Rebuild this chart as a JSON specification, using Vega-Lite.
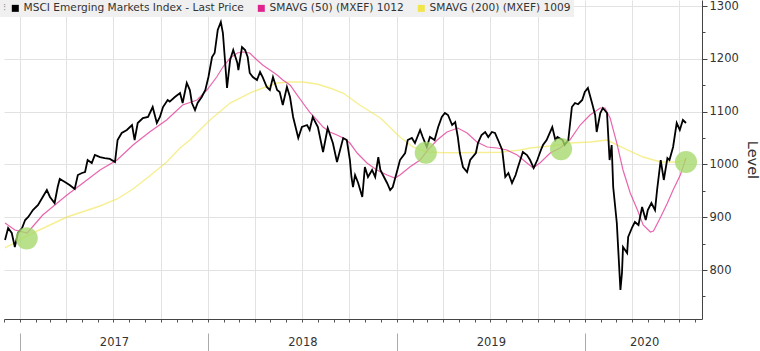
{
  "$schema": "https://vega.github.io/schema/vega-lite/v6.json",
  "width": 698,
  "height": 319,
  "autosize": {"type": "none"},
  "padding": {"left": 4, "top": 0, "right": 58, "bottom": 32},
  "background": "#ffffff",
  "config": {"font": "DejaVu Sans", "view": {"stroke": null}},
  "datasets": {
    "price": [
      {"date": "2016-12-03", "value": 856.8}, {"date": "2016-12-09", "value": 879.6}, {"date": "2016-12-16", "value": 870.1}, {"date": "2016-12-22", "value": 843.6}, {"date": "2016-12-28", "value": 870.1},
      {"date": "2017-01-05", "value": 879.6}, {"date": "2017-01-11", "value": 894.7}, {"date": "2017-01-17", "value": 900.4}, {"date": "2017-01-26", "value": 913.6}, {"date": "2017-02-05", "value": 923.1},
      {"date": "2017-02-14", "value": 938.3}, {"date": "2017-02-22", "value": 951.5}, {"date": "2017-02-28", "value": 938.3}, {"date": "2017-03-09", "value": 926.9}, {"date": "2017-03-15", "value": 957.2},
      {"date": "2017-03-19", "value": 972.4}, {"date": "2017-03-29", "value": 966.7}, {"date": "2017-04-07", "value": 961.0}, {"date": "2017-04-17", "value": 953.4}, {"date": "2017-04-23", "value": 979.9},
      {"date": "2017-05-01", "value": 983.7}, {"date": "2017-05-07", "value": 985.6}, {"date": "2017-05-12", "value": 1008.3}, {"date": "2017-05-20", "value": 1002.7}, {"date": "2017-05-26", "value": 1017.8},
      {"date": "2017-06-05", "value": 1014.0}, {"date": "2017-06-14", "value": 1012.1}, {"date": "2017-06-24", "value": 1010.5}, {"date": "2017-07-04", "value": 1004.6}, {"date": "2017-07-09", "value": 1046.2},
      {"date": "2017-07-17", "value": 1059.5}, {"date": "2017-07-27", "value": 1065.2}, {"date": "2017-08-06", "value": 1074.6}, {"date": "2017-08-11", "value": 1046.2}, {"date": "2017-08-17", "value": 1078.4},
      {"date": "2017-08-27", "value": 1087.9}, {"date": "2017-09-06", "value": 1089.8}, {"date": "2017-09-15", "value": 1108.7}, {"date": "2017-09-23", "value": 1078.4}, {"date": "2017-09-29", "value": 1089.8},
      {"date": "2017-10-05", "value": 1108.7}, {"date": "2017-10-14", "value": 1122.0}, {"date": "2017-10-18", "value": 1119.0}, {"date": "2017-10-28", "value": 1127.7}, {"date": "2017-11-07", "value": 1135.2},
      {"date": "2017-11-12", "value": 1116.3}, {"date": "2017-11-20", "value": 1154.2}, {"date": "2017-11-26", "value": 1140.9}, {"date": "2017-11-30", "value": 1116.3}, {"date": "2017-12-06", "value": 1103.0},
      {"date": "2017-12-11", "value": 1116.3}, {"date": "2017-12-19", "value": 1127.7}, {"date": "2017-12-26", "value": 1140.9}, {"date": "2018-01-01", "value": 1165.5}, {"date": "2018-01-08", "value": 1203.4},
      {"date": "2018-01-13", "value": 1211.0}, {"date": "2018-01-19", "value": 1254.5}, {"date": "2018-01-25", "value": 1269.7}, {"date": "2018-01-29", "value": 1248.9}, {"date": "2018-02-02", "value": 1197.7},
      {"date": "2018-02-06", "value": 1144.7}, {"date": "2018-02-12", "value": 1197.7}, {"date": "2018-02-18", "value": 1216.7}, {"date": "2018-02-26", "value": 1192.0}, {"date": "2018-02-28", "value": 1178.8},
      {"date": "2018-03-07", "value": 1222.4}, {"date": "2018-03-13", "value": 1216.7}, {"date": "2018-03-18", "value": 1203.4}, {"date": "2018-03-22", "value": 1173.1}, {"date": "2018-03-28", "value": 1165.5},
      {"date": "2018-04-05", "value": 1159.9}, {"date": "2018-04-11", "value": 1175.0}, {"date": "2018-04-16", "value": 1165.5}, {"date": "2018-04-24", "value": 1146.6}, {"date": "2018-04-30", "value": 1140.9},
      {"date": "2018-05-06", "value": 1165.5}, {"date": "2018-05-14", "value": 1140.9}, {"date": "2018-05-19", "value": 1137.1}, {"date": "2018-05-25", "value": 1112.5}, {"date": "2018-06-02", "value": 1146.6},
      {"date": "2018-06-08", "value": 1127.7}, {"date": "2018-06-14", "value": 1089.8}, {"date": "2018-06-24", "value": 1050.0}, {"date": "2018-07-01", "value": 1070.8}, {"date": "2018-07-11", "value": 1074.6},
      {"date": "2018-07-16", "value": 1065.2}, {"date": "2018-07-22", "value": 1089.8}, {"date": "2018-08-01", "value": 1070.8}, {"date": "2018-08-11", "value": 1023.5}, {"date": "2018-08-20", "value": 1068.9},
      {"date": "2018-08-30", "value": 1040.5}, {"date": "2018-09-07", "value": 1004.6}, {"date": "2018-09-13", "value": 1027.3}, {"date": "2018-09-19", "value": 1050.0}, {"date": "2018-09-26", "value": 1046.2},
      {"date": "2018-10-02", "value": 1008.3}, {"date": "2018-10-05", "value": 976.2}, {"date": "2018-10-08", "value": 957.2}, {"date": "2018-10-12", "value": 979.9}, {"date": "2018-10-18", "value": 964.8},
      {"date": "2018-10-26", "value": 938.3}, {"date": "2018-10-31", "value": 995.1}, {"date": "2018-11-06", "value": 976.2}, {"date": "2018-11-14", "value": 989.4}, {"date": "2018-11-20", "value": 976.2},
      {"date": "2018-11-26", "value": 1014.0}, {"date": "2018-11-30", "value": 989.4}, {"date": "2018-12-05", "value": 979.9}, {"date": "2018-12-13", "value": 964.8}, {"date": "2018-12-19", "value": 951.5},
      {"date": "2018-12-24", "value": 957.2}, {"date": "2019-01-02", "value": 989.4}, {"date": "2019-01-07", "value": 1008.3}, {"date": "2019-01-17", "value": 1021.6}, {"date": "2019-01-22", "value": 1046.2},
      {"date": "2019-01-30", "value": 1050.0}, {"date": "2019-02-05", "value": 1040.5}, {"date": "2019-02-15", "value": 1065.2}, {"date": "2019-02-20", "value": 1051.9}, {"date": "2019-02-28", "value": 1033.0},
      {"date": "2019-03-06", "value": 1051.9}, {"date": "2019-03-15", "value": 1046.2}, {"date": "2019-03-22", "value": 1070.8}, {"date": "2019-03-29", "value": 1089.8}, {"date": "2019-04-04", "value": 1097.4},
      {"date": "2019-04-10", "value": 1093.6}, {"date": "2019-04-18", "value": 1074.6}, {"date": "2019-04-24", "value": 1080.3}, {"date": "2019-04-29", "value": 1051.9}, {"date": "2019-05-03", "value": 1021.6},
      {"date": "2019-05-09", "value": 995.1}, {"date": "2019-05-17", "value": 985.6}, {"date": "2019-05-23", "value": 1008.3}, {"date": "2019-06-03", "value": 1021.6}, {"date": "2019-06-07", "value": 1040.5},
      {"date": "2019-06-14", "value": 1055.7}, {"date": "2019-06-21", "value": 1061.4}, {"date": "2019-06-27", "value": 1051.9}, {"date": "2019-07-04", "value": 1061.4}, {"date": "2019-07-10", "value": 1059.5},
      {"date": "2019-07-16", "value": 1046.2}, {"date": "2019-07-24", "value": 1027.3}, {"date": "2019-07-30", "value": 976.2}, {"date": "2019-08-05", "value": 983.7}, {"date": "2019-08-12", "value": 964.8},
      {"date": "2019-08-19", "value": 979.9}, {"date": "2019-08-23", "value": 993.2}, {"date": "2019-08-28", "value": 1008.3}, {"date": "2019-09-02", "value": 1023.5}, {"date": "2019-09-10", "value": 1017.8},
      {"date": "2019-09-16", "value": 1008.3}, {"date": "2019-09-23", "value": 993.2}, {"date": "2019-09-30", "value": 1008.3}, {"date": "2019-10-07", "value": 1027.3}, {"date": "2019-10-11", "value": 1036.7},
      {"date": "2019-10-18", "value": 1046.2}, {"date": "2019-10-29", "value": 1070.8}, {"date": "2019-11-04", "value": 1046.2}, {"date": "2019-11-08", "value": 1051.9}, {"date": "2019-11-18", "value": 1046.2},
      {"date": "2019-11-22", "value": 1036.7}, {"date": "2019-11-29", "value": 1046.2}, {"date": "2019-12-06", "value": 1108.7}, {"date": "2019-12-12", "value": 1116.3}, {"date": "2019-12-18", "value": 1114.0},
      {"date": "2019-12-26", "value": 1122.0}, {"date": "2019-12-31", "value": 1137.1}, {"date": "2020-01-06", "value": 1144.7}, {"date": "2020-01-14", "value": 1116.3}, {"date": "2020-01-20", "value": 1093.6},
      {"date": "2020-01-23", "value": 1061.4}, {"date": "2020-01-30", "value": 1097.4}, {"date": "2020-02-04", "value": 1106.8}, {"date": "2020-02-12", "value": 1097.4}, {"date": "2020-02-17", "value": 1008.3},
      {"date": "2020-02-21", "value": 1036.7}, {"date": "2020-02-24", "value": 957.2}, {"date": "2020-03-02", "value": 889.0}, {"date": "2020-03-09", "value": 762.1}, {"date": "2020-03-12", "value": 794.3},
      {"date": "2020-03-14", "value": 843.6}, {"date": "2020-03-22", "value": 832.2}, {"date": "2020-03-24", "value": 862.5}, {"date": "2020-04-01", "value": 881.4}, {"date": "2020-04-06", "value": 890.9},
      {"date": "2020-04-13", "value": 885.2}, {"date": "2020-04-20", "value": 919.3}, {"date": "2020-04-27", "value": 894.7}, {"date": "2020-05-01", "value": 913.6}, {"date": "2020-05-08", "value": 926.9},
      {"date": "2020-05-15", "value": 913.6}, {"date": "2020-05-19", "value": 951.5}, {"date": "2020-05-26", "value": 1008.3}, {"date": "2020-06-01", "value": 970.5}, {"date": "2020-06-08", "value": 1012.1},
      {"date": "2020-06-12", "value": 1008.3}, {"date": "2020-06-19", "value": 1033.0}, {"date": "2020-06-26", "value": 1078.4}, {"date": "2020-07-02", "value": 1065.2}, {"date": "2020-07-08", "value": 1084.1},
      {"date": "2020-07-14", "value": 1078.4}
    ],
    "sma50": [
      {"date": "2016-12-03", "value": 889.0}, {"date": "2016-12-22", "value": 875.8}, {"date": "2017-01-15", "value": 870.1}, {"date": "2017-02-14", "value": 904.2}, {"date": "2017-04-02", "value": 942.1},
      {"date": "2017-05-03", "value": 964.8}, {"date": "2017-06-05", "value": 989.4}, {"date": "2017-07-08", "value": 1008.3}, {"date": "2017-08-08", "value": 1036.7}, {"date": "2017-09-09", "value": 1061.4},
      {"date": "2017-10-12", "value": 1084.1}, {"date": "2017-11-12", "value": 1112.5}, {"date": "2017-12-10", "value": 1122.0}, {"date": "2017-12-29", "value": 1140.9}, {"date": "2018-01-17", "value": 1165.5},
      {"date": "2018-01-29", "value": 1184.5}, {"date": "2018-02-12", "value": 1201.5}, {"date": "2018-02-26", "value": 1211.0}, {"date": "2018-03-09", "value": 1212.9}, {"date": "2018-03-22", "value": 1211.0},
      {"date": "2018-04-05", "value": 1197.7}, {"date": "2018-04-16", "value": 1188.3}, {"date": "2018-04-30", "value": 1178.8}, {"date": "2018-05-14", "value": 1169.3}, {"date": "2018-05-25", "value": 1159.9},
      {"date": "2018-06-08", "value": 1150.4}, {"date": "2018-06-22", "value": 1131.4}, {"date": "2018-07-03", "value": 1116.3}, {"date": "2018-07-16", "value": 1099.2}, {"date": "2018-07-30", "value": 1084.1},
      {"date": "2018-08-11", "value": 1070.8}, {"date": "2018-08-24", "value": 1061.4}, {"date": "2018-09-07", "value": 1055.7}, {"date": "2018-09-19", "value": 1050.0}, {"date": "2018-10-02", "value": 1040.5},
      {"date": "2018-10-16", "value": 1021.6}, {"date": "2018-11-04", "value": 1002.7}, {"date": "2018-11-23", "value": 989.4}, {"date": "2018-12-13", "value": 979.9}, {"date": "2018-12-28", "value": 974.2},
      {"date": "2019-01-07", "value": 979.9}, {"date": "2019-01-26", "value": 995.1}, {"date": "2019-02-15", "value": 1008.3}, {"date": "2019-03-02", "value": 1027.3}, {"date": "2019-03-20", "value": 1046.2},
      {"date": "2019-04-08", "value": 1061.4}, {"date": "2019-04-29", "value": 1068.9}, {"date": "2019-05-17", "value": 1059.5}, {"date": "2019-06-05", "value": 1042.4}, {"date": "2019-06-25", "value": 1033.0},
      {"date": "2019-07-14", "value": 1031.1}, {"date": "2019-08-02", "value": 1027.3}, {"date": "2019-08-22", "value": 1017.8}, {"date": "2019-09-10", "value": 1002.7}, {"date": "2019-09-22", "value": 993.2},
      {"date": "2019-10-05", "value": 1002.7}, {"date": "2019-10-25", "value": 1021.6}, {"date": "2019-11-13", "value": 1031.1}, {"date": "2019-12-02", "value": 1046.2}, {"date": "2019-12-22", "value": 1074.6},
      {"date": "2020-01-10", "value": 1093.6}, {"date": "2020-01-30", "value": 1106.8}, {"date": "2020-02-08", "value": 1106.8}, {"date": "2020-02-18", "value": 1087.9}, {"date": "2020-03-02", "value": 1040.5},
      {"date": "2020-03-14", "value": 989.4}, {"date": "2020-03-28", "value": 945.9}, {"date": "2020-04-11", "value": 913.6}, {"date": "2020-04-22", "value": 885.2}, {"date": "2020-05-06", "value": 872.0},
      {"date": "2020-05-12", "value": 873.9}, {"date": "2020-05-26", "value": 900.4}, {"date": "2020-06-08", "value": 926.9}, {"date": "2020-06-19", "value": 951.5}, {"date": "2020-07-03", "value": 979.9},
      {"date": "2020-07-14", "value": 1012.0}
    ],
    "sma200": [
      {"date": "2016-12-03", "value": 841.7}, {"date": "2017-01-26", "value": 870.1}, {"date": "2017-04-02", "value": 900.4}, {"date": "2017-06-05", "value": 921.2}, {"date": "2017-07-08", "value": 934.5},
      {"date": "2017-08-08", "value": 953.4}, {"date": "2017-09-09", "value": 978.0}, {"date": "2017-10-12", "value": 1004.6}, {"date": "2017-11-07", "value": 1031.1}, {"date": "2017-11-26", "value": 1046.2},
      {"date": "2018-01-04", "value": 1084.1}, {"date": "2018-02-12", "value": 1116.3}, {"date": "2018-03-22", "value": 1135.2}, {"date": "2018-04-16", "value": 1144.7}, {"date": "2018-05-14", "value": 1154.2},
      {"date": "2018-06-08", "value": 1156.1}, {"date": "2018-07-03", "value": 1156.1}, {"date": "2018-07-30", "value": 1152.3}, {"date": "2018-08-24", "value": 1144.7}, {"date": "2018-09-19", "value": 1135.2},
      {"date": "2018-10-21", "value": 1112.5}, {"date": "2018-11-30", "value": 1087.9}, {"date": "2019-01-07", "value": 1051.9}, {"date": "2019-02-01", "value": 1033.0}, {"date": "2019-02-28", "value": 1023.5},
      {"date": "2019-03-25", "value": 1022.5}, {"date": "2019-05-03", "value": 1022.0}, {"date": "2019-06-11", "value": 1022.5}, {"date": "2019-07-20", "value": 1023.0}, {"date": "2019-08-28", "value": 1027.3},
      {"date": "2019-09-16", "value": 1031.1}, {"date": "2019-10-25", "value": 1034.9}, {"date": "2019-12-02", "value": 1040.5}, {"date": "2020-01-10", "value": 1042.4}, {"date": "2020-02-12", "value": 1046.2},
      {"date": "2020-03-14", "value": 1031.1}, {"date": "2020-04-22", "value": 1014.0}, {"date": "2020-05-26", "value": 1004.6}, {"date": "2020-06-26", "value": 1004.6}, {"date": "2020-07-14", "value": 1009.0}
    ],
    "cross": [
      {"date": "2017-01-14", "value": 860.0},
      {"date": "2019-02-26", "value": 1022.0},
      {"date": "2019-11-15", "value": 1029.0},
      {"date": "2020-07-14", "value": 1004.5}
    ]
  },
  "encoding": {
    "y": {
      "field": "value",
      "type": "quantitative",
      "scale": {"domain": [707.2, 1311.4], "nice": false, "zero": false},
      "axis": {
        "orient": "right",
        "values": [750, 800, 850, 900, 950, 1000, 1050, 1100, 1150, 1200, 1250, 1300],
        "format": "d",
        "labelExpr": "datum.value % 100 === 0 ? datum.label : ''",
        "tickSize": {"condition": {"test": "datum.value % 100 !== 0", "value": 3}, "value": 5},
        "tickColor": "#444",
        "domainColor": "#444",
        "labelPadding": 2,
        "labelFontSize": 11.5,
        "labelColor": "#333",
        "grid": true,
        "gridColor": "#e2e2e2",
        "gridOpacity": {"condition": {"test": "datum.value % 100 !== 0", "value": 0}, "value": 1},
        "title": "Level",
        "titleFontSize": 14.5,
        "titleFontWeight": "normal",
        "titleColor": "#333",
        "titlePadding": 6
      }
    }
  },
  "layer": [
    {
      "data": {"name": "sma200"},
      "mark": {"type": "line", "strokeWidth": 1.4, "opacity": 0.6},
      "encoding": {
        "x": {
          "field": "date", "type": "temporal",
          "scale": {"type": "utc", "domain": [{"year": 2016, "month": 12, "date": 1, "utc": true}, {"year": 2020, "month": 8, "date": 14, "utc": true}]},
          "axis": {"orient": "bottom", "tickCount": {"interval": "year", "step": 1}, "labels": false, "domain": false, "grid": false, "offset": 14, "tickSize": 18, "tickColor": "#aaaaaa", "title": null}
        },
        "color": {
          "datum": "SMAVG (200) (MXEF) 1009",
          "scale": {"domain": ["MSCI Emerging Markets Index - Last Price", "SMAVG (50) (MXEF) 1012", "SMAVG (200) (MXEF) 1009"], "range": ["#000000", "#e0238c", "#f0e54a"]},
          "legend": {"orient": "none", "legendX": -4, "legendY": 0, "direction": "horizontal", "columns": 3, "fillColor": "#f0f0f0", "padding": 3, "symbolType": "square", "symbolSize": 49, "symbolStrokeWidth": 0, "symbolOpacity": 1, "labelFontSize": 10.6, "labelColor": "#333", "labelOffset": 3, "columnPadding": 12, "labelLimit": 400, "title": "⁝", "titleOrient": "left", "titleFontSize": 10, "titleColor": "#999", "titleFontWeight": "normal", "titlePadding": 3, "encode": {"symbols": {"update": {"fill": {"scale": "color", "field": "value"}, "opacity": {"value": 1}}}}}
        }
      }
    },
    {
      "data": {"name": "sma50"},
      "mark": {"type": "line", "strokeWidth": 1.2, "opacity": 0.7},
      "encoding": {
        "x": {
          "field": "date", "type": "temporal",
          "axis": {"orient": "bottom", "values": [{"year": 2017, "month": 7, "date": 2, "utc": true}, {"year": 2018, "month": 7, "date": 2, "utc": true}, {"year": 2019, "month": 7, "date": 2, "utc": true}, {"year": 2020, "month": 4, "date": 24, "utc": true}], "format": "%Y", "ticks": false, "tickSize": 0, "domain": false, "grid": false, "labelPadding": 17, "labelFontSize": 11.5, "labelColor": "#333", "labelFlush": false, "labelOverlap": false, "title": null}
        },
        "color": {"datum": "SMAVG (50) (MXEF) 1012"}
      }
    },
    {
      "data": {"name": "price"},
      "mark": {"type": "line", "strokeWidth": 1.8},
      "encoding": {
        "x": {
          "field": "date", "type": "temporal",
          "axis": {"orient": "bottom", "tickCount": {"interval": "month", "step": 1}, "labels": false, "tickSize": 3, "tickColor": "#555", "domainColor": "#444", "grid": true, "gridColor": "#e2e2e2", "gridOpacity": {"condition": {"test": "utcmonth(datum.value) % 3 !== 0", "value": 0}, "value": 1}, "title": null}
        },
        "color": {"datum": "MSCI Emerging Markets Index - Last Price"}
      }
    },
    {
      "data": {"name": "cross"},
      "mark": {"type": "point", "shape": "circle", "filled": true, "size": 490, "color": "#a5d86a", "opacity": 0.78, "strokeWidth": 0},
      "encoding": {
        "x": {"field": "date", "type": "temporal", "axis": null}
      }
    }
  ],
  "resolve": {"axis": {"x": "independent"}}
}
